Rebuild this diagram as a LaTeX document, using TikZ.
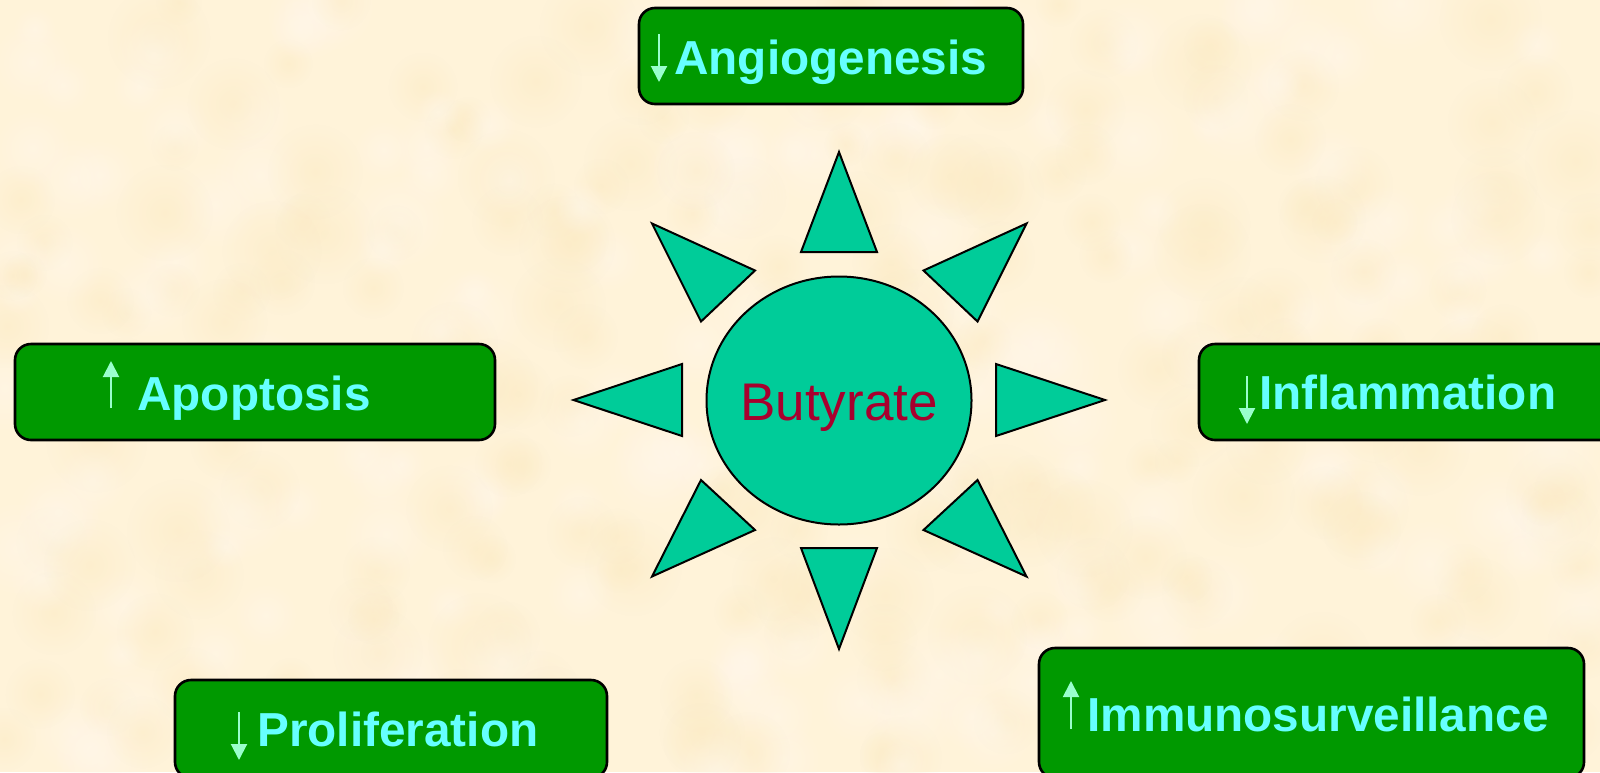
\documentclass[tikz,border=0pt]{standalone}
\usepackage{fontspec}
\setmainfont{Liberation Sans}
\usetikzlibrary{shapes.geometric,arrows.meta,fadings}
\definecolor{bgcream}{HTML}{FFF3D9}
\definecolor{blotch}{HTML}{FCEBC4}
\definecolor{blotchb}{HTML}{FFF7EA}
\definecolor{boxgreen}{HTML}{009900}
\definecolor{labelcyan}{HTML}{66FFFF}
\definecolor{arrowmint}{HTML}{99FFCC}
\definecolor{sunteal}{HTML}{00CC99}
\definecolor{butyred}{HTML}{A8002E}
\tikzfading[name=softdot,inner color=transparent!45,outer color=transparent!100]
\tikzset{
  x=0.5pt,y=-0.5pt,
  greenbox/.style={draw=black,line width=1.3pt,fill=boxgreen,rounded corners=8pt},
  ray/.style={draw=black,line width=1pt,fill=sunteal,line join=miter},
  lab/.style={anchor=base west,inner sep=0pt,text=labelcyan,font=\fontsize{23.85}{24}\selectfont\bfseries},
  updown/.style={draw=arrowmint,line width=1pt,-{Triangle[length=8pt,width=8pt,fill=arrowmint]}},
}
\begin{document}
\begin{tikzpicture}
\useasboundingbox (0,0) rectangle (1600,772);
\clip (0,0) rectangle (1600,772);
\fill[bgcream] (0,0) rectangle (1600,772);
\pgfmathsetseed{4217}
\foreach \i in {1,...,420}{
  \pgfmathsetmacro{\px}{rnd*1600}
  \pgfmathsetmacro{\py}{rnd*772}
  \pgfmathsetmacro{\pr}{22+rnd*30}
  \pgfmathsetmacro{\pc}{rnd>0.5?1:0}
  \ifdim\pc pt>0.5pt
    \fill[blotch,path fading=softdot] (\px,\py) circle[radius=\pr];
  \else
    \fill[blotchb,path fading=softdot] (\px,\py) circle[radius=\pr];
  \fi
}
% boxes
\path[greenbox] (639,8) rectangle (1023,104);
\path[greenbox] (15,344) rectangle (495,440);
\path[greenbox] (1199,344) rectangle (1640,440);
\path[greenbox] (1039,648) rectangle (1584,778);
\path[greenbox] (175,680) rectangle (607,778);
% labels
\node[lab] (angio) at (674,74) {Angiogenesis};
\node[lab] (apop) at (137,410) {Apoptosis};
\node[lab] (infl) at (1259,409) {Inflammation};
\node[lab] (immu) at (1087,731) {Immunosurveillance};
\node[lab] (prol) at (257,746) {Proliferation};
% small arrows
\coordinate (a1) at (659,34); \coordinate (a2) at (659,82);
\coordinate (b1) at (111,408); \coordinate (b2) at (111,361);
\coordinate (c1) at (1247,376); \coordinate (c2) at (1247,424);
\coordinate (d1) at (1071,729); \coordinate (d2) at (1071,681);
\coordinate (e1) at (239,712); \coordinate (e2) at (239,760);
\draw[updown] (a1) -- (a2);
\draw[updown] (b1) -- (b2);
\draw[updown] (c1) -- (c2);
\draw[updown] (d1) -- (d2);
\draw[updown] (e1) -- (e2);
% sun
\node[draw=black,line width=1pt,fill=sunteal,ellipse,inner sep=0pt,minimum width=132.5pt,minimum height=124pt] (sun) at (839,400.5) {};
\node[anchor=base,inner sep=0pt,text=butyred,font=\fontsize{26.5}{26}\selectfont] (buty) at (839,420) {Butyrate};
\path[ray] (839,152) -- (801,252) -- (877,252) -- cycle;
\path[ray] (573.5,400) -- (682,364) -- (682,436) -- cycle;
\path[ray] (1105,400) -- (996,364) -- (996,436) -- cycle;
\path[ray] (839,649) -- (801,548) -- (877,548) -- cycle;
\path[ray] (652,223.5) -- (755,270.5) -- (701,321.5) -- cycle;
\path[ray] (1026.5,223.5) -- (923.5,270.5) -- (977.5,321.5) -- cycle;
\path[ray] (652,576.5) -- (755,530) -- (701,480) -- cycle;
\path[ray] (1026.5,576.5) -- (923.5,530) -- (977.5,480) -- cycle;
\end{tikzpicture}
\end{document}
